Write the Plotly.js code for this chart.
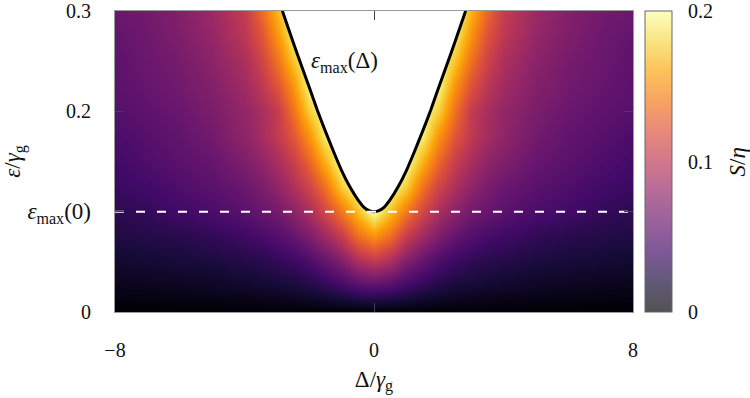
<!DOCTYPE html>
<html>
<head>
<meta charset="utf-8">
<script src="https://cdn.plot.ly/plotly-3.0.1.min.js"></script>
<style>html,body{margin:0;padding:0;background:#fff;}#chart{width:750px;height:398px;}</style>
</head>
<body>
<div id="chart"></div>
<script>
// Detuning Delta/gamma_g (columns)
const delta = [-8,-7,-6,-5,-4,-3.5,-3,-2.5,-2,-1.5,-1,-0.5,0,0.5,1,1.5,2,2.5,3,3.5,4,5,6,7,8];
// Drive epsilon/gamma_g (rows)
const eps = [0,0.025,0.05,0.075,0.1,0.125,0.15,0.175,0.2,0.225,0.25,0.275,0.3];
// S/eta values (row per eps)
const S_0000 = [0,0,0,0,0,0,0,0,0,0,0,0,0,0,0,0,0,0,0,0,0,0,0,0,0];
const S_0025 = [0.008,0.009,0.01,0.012,0.014,0.016,0.018,0.02,0.024,0.03,0.038,0.046,0.05,0.046,0.038,0.03,0.024,0.02,0.018,0.016,0.014,0.012,0.01,0.009,0.008];
const S_0050 = [0.016,0.018,0.02,0.022,0.026,0.028,0.032,0.036,0.044,0.056,0.07,0.09,0.1,0.09,0.07,0.056,0.044,0.036,0.032,0.028,0.026,0.022,0.02,0.018,0.016];
const S_0075 = [0.024,0.026,0.028,0.032,0.038,0.042,0.048,0.056,0.068,0.084,0.104,0.134,0.15,0.134,0.104,0.084,0.068,0.056,0.048,0.042,0.038,0.032,0.028,0.026,0.024];
const S_0100 = [0.03,0.034,0.04,0.044,0.052,0.058,0.064,0.076,0.09,0.112,0.14,0.17,0.2,0.17,0.14,0.112,0.09,0.076,0.064,0.058,0.052,0.044,0.04,0.034,0.03];
const S_0125 = [0.036,0.04,0.046,0.052,0.06,0.068,0.078,0.092,0.11,0.136,0.176,0.2,0.2,0.2,0.176,0.136,0.11,0.092,0.078,0.068,0.06,0.052,0.046,0.04,0.036];
const S_0150 = [0.04,0.046,0.052,0.058,0.07,0.078,0.09,0.106,0.13,0.164,0.2,0.2,0.2,0.2,0.2,0.164,0.13,0.106,0.09,0.078,0.07,0.058,0.052,0.046,0.04];
const S_0175 = [0.044,0.05,0.056,0.064,0.078,0.088,0.102,0.122,0.152,0.19,0.2,0.2,0.2,0.2,0.2,0.19,0.152,0.122,0.102,0.088,0.078,0.064,0.056,0.05,0.044];
const S_0200 = [0.05,0.054,0.06,0.068,0.08,0.09,0.104,0.136,0.176,0.2,0.2,0.2,0.2,0.2,0.2,0.2,0.176,0.136,0.104,0.09,0.08,0.068,0.06,0.054,0.05];
const S_0225 = [0.052,0.058,0.064,0.072,0.086,0.1,0.12,0.152,0.194,0.2,0.2,0.2,0.2,0.2,0.2,0.2,0.194,0.152,0.12,0.1,0.086,0.072,0.064,0.058,0.052];
const S_0250 = [0.054,0.06,0.066,0.076,0.092,0.11,0.136,0.172,0.2,0.2,0.2,0.2,0.2,0.2,0.2,0.2,0.2,0.172,0.136,0.11,0.092,0.076,0.066,0.06,0.054];
const S_0275 = [0.056,0.062,0.07,0.08,0.1,0.12,0.152,0.19,0.2,0.2,0.2,0.2,0.2,0.2,0.2,0.2,0.2,0.19,0.152,0.12,0.1,0.08,0.07,0.062,0.056];
const S_0300 = [0.06,0.064,0.072,0.084,0.104,0.132,0.166,0.2,0.2,0.2,0.2,0.2,0.2,0.2,0.2,0.2,0.2,0.2,0.166,0.132,0.104,0.084,0.072,0.064,0.06];
const S = [S_0000,S_0025,S_0050,S_0075,S_0100,S_0125,S_0150,S_0175,S_0200,S_0225,S_0250,S_0275,S_0300];

// Stability boundary eps_max(Delta)
const curveDelta = [-2.83,-2.5,-2.2,-2.0,-1.75,-1.5,-1.25,-1.0,-0.75,-0.5,-0.3,-0.15,0,0.15,0.3,0.5,0.75,1.0,1.25,1.5,1.75,2.0,2.2,2.5,2.83];
const curveEps   = [0.3,0.269,0.242,0.224,0.201,0.180,0.160,0.141,0.125,0.112,0.104,0.101,0.1,0.101,0.104,0.112,0.125,0.141,0.160,0.180,0.201,0.224,0.242,0.269,0.3];
const epsMax0 = 0.1;

// Tick labels
const xTickVals = [-8,0,8];
const xTickText = ['\u22128','0','8'];
const yTickVals = [0,0.1,0.2,0.3];
const yTickText = ['0','<span style="font-size:23px"><i>ε</i><sub>max</sub>(0)</span>','0.2','0.3'];
const cTickVals = [0,0.1,0.2];
const cTickText = ['0','0.1','0.2'];

const infernoHex = ['#000004','#160b39','#420a68','#6a176e','#932667','#bc3754','#dd513a','#f37819','#fca50a','#f6d746','#fcffa4'];
const inferno = infernoHex.map((c,i)=>[i/(infernoHex.length-1), c]);
function wash(hex, a){
  const r=parseInt(hex.slice(1,3),16), g=parseInt(hex.slice(3,5),16), b=parseInt(hex.slice(5,7),16);
  const f=v=>Math.round(a*v+(1-a)*255);
  return 'rgb('+f(r)+','+f(g)+','+f(b)+')';
}
const infernoWashed = infernoHex.map((c,i)=>[i/(infernoHex.length-1), wash(c,0.68)]);

const family = '"Liberation Serif", "DejaVu Serif", serif';
const font = {family:family, size:20, color:'#111'};
const bigFont = {family:family, size:23, color:'#111'};

const traces = [
  {type:'heatmap', x:delta, y:eps, z:S, zmin:0, zmax:0.2, colorscale:inferno,
   zsmooth:'best', showscale:false, hoverinfo:'skip'},
  {type:'scatter', mode:'lines', x:curveDelta, y:curveEps, fill:'toself', fillcolor:'#ffffff',
   line:{color:'#000', width:3, shape:'spline', smoothing:0.6}, hoverinfo:'skip'},
  {type:'scatter', mode:'lines', x:[delta[0], delta[delta.length-1]], y:[epsMax0, epsMax0],
   line:{color:'#ffffff', width:2, dash:'9px,12px'}, hoverinfo:'skip'},
  {type:'scatter', mode:'markers', x:[0], y:[0], hoverinfo:'skip',
   marker:{color:[0], opacity:0, size:1, cmin:0, cmax:0.2, colorscale:infernoWashed, showscale:true,
     colorbar:{x:1.023, xanchor:'left', y:0.5, yanchor:'middle', len:1, lenmode:'fraction',
       thickness:27, thicknessmode:'pixels', xpad:0, ypad:0,
       outlinewidth:1, outlinecolor:'#666',
       tickvals:cTickVals, ticktext:cTickText, ticks:'outside', ticklen:12, tickcolor:'rgba(0,0,0,0)',
       ticklabeloverflow:'allow', tickfont:font,
       title:{text:''}}}}
];

const layout = {
  width:750, height:398,
  margin:{l:115, r:117, t:11, b:86},
  paper_bgcolor:'#fff', plot_bgcolor:'#fff',
  showlegend:false,
  font:font,
  xaxis:{range:[-8,8], tickvals:xTickVals, ticktext:xTickText, ticks:'inside', ticklen:9,
    tickcolor:'#444', showline:true, linecolor:'#999', linewidth:1, mirror:'ticks',
    showgrid:false, zeroline:false, ticklabelstandoff:20, ticklabeloverflow:'allow', tickfont:font,
    title:{text:'Δ/<i>γ</i><sub>g</sub>', font:bigFont, standoff:10}},
  yaxis:{range:[0,0.3], tickvals:yTickVals, ticktext:yTickText, ticks:'inside', ticklen:9,
    tickcolor:'#444', showline:true, linecolor:'#999', linewidth:1, mirror:'ticks',
    showgrid:false, zeroline:false, ticklabelstandoff:19, ticklabeloverflow:'allow', tickfont:font,
    title:{text:'<i>ε</i>/<i>γ</i><sub>g</sub>', font:bigFont, standoff:8}},
  annotations:[
    {x:-0.9, y:0.249, xref:'x', yref:'y', text:'<i>ε</i><sub>max</sub>(Δ)', showarrow:false,
     font:bigFont, xanchor:'center', yanchor:'middle'},
    {x:1.2027, y:0.5, xref:'paper', yref:'paper', text:'<i>S</i>/<i>η</i>', showarrow:false,
     textangle:-90, font:bigFont, xanchor:'center', yanchor:'middle'}
  ]
};

Plotly.newPlot('chart', traces, layout, {staticPlot:true, displayModeBar:false});
</script>
</body>
</html>
